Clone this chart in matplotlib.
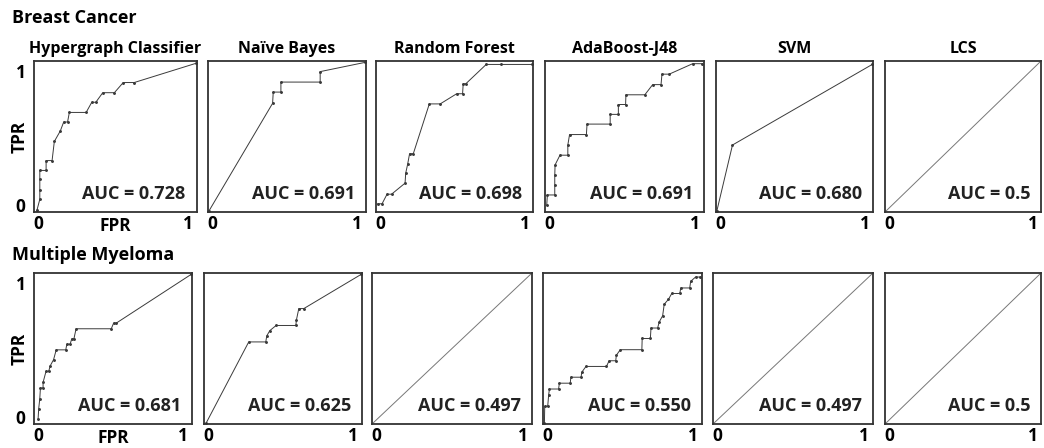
import matplotlib
matplotlib.use("Agg")
import matplotlib.pyplot as plt

plt.rcParams['font.family'] = ['Open Sans', 'DejaVu Sans']
plt.rcParams['font.weight'] = 'bold'

methods = ["Hypergraph Classifier", "Naïve Bayes", "Random Forest", "AdaBoost-J48", "SVM", "LCS"]
datasets = ["Breast Cancer", "Multiple Myeloma"]

# Breast cancer ROC points (FPR, TPR)
bc_hyper_fpr = [0.014, 0.031, 0.031, 0.031, 0.031, 0.070, 0.070, 0.107, 0.121, 0.158, 0.179, 0.203, 0.214, 0.318, 0.353, 0.378, 0.421, 0.493, 0.548, 0.616, 1.0]
bc_hyper_tpr = [0.010, 0.080, 0.143, 0.213, 0.273, 0.273, 0.339, 0.339, 0.467, 0.537, 0.597, 0.597, 0.661, 0.661, 0.729, 0.729, 0.793, 0.793, 0.861, 0.861, 0.990]
bc_nb_fpr = [0.0, 0.408, 0.412, 0.461, 0.461, 0.712, 0.712, 1.0]
bc_nb_tpr = [0.0, 0.722, 0.797, 0.797, 0.864, 0.864, 0.934, 0.996]
bc_rf_fpr = [0.006, 0.034, 0.066, 0.095, 0.182, 0.186, 0.199, 0.211, 0.235, 0.338, 0.408, 0.514, 0.552, 0.556, 0.573, 0.704, 0.800, 1.0]
bc_rf_tpr = [0.050, 0.050, 0.114, 0.114, 0.188, 0.254, 0.317, 0.385, 0.385, 0.718, 0.718, 0.786, 0.786, 0.853, 0.853, 0.982, 0.982, 0.982]
bc_ada_fpr = [0.006, 0.010, 0.057, 0.057, 0.057, 0.059, 0.090, 0.140, 0.140, 0.151, 0.258, 0.262, 0.409, 0.409, 0.461, 0.461, 0.507, 0.509, 0.629, 0.679, 0.732, 0.738, 0.784, 0.933, 0.995]
bc_ada_tpr = [0.040, 0.109, 0.109, 0.175, 0.240, 0.310, 0.375, 0.375, 0.443, 0.513, 0.513, 0.583, 0.583, 0.648, 0.648, 0.714, 0.714, 0.779, 0.779, 0.847, 0.847, 0.917, 0.917, 0.987, 0.987]
bc_svm_fpr = [0.0, 0.101, 1.0]
bc_svm_tpr = [0.0, 0.443, 0.982]
bc_lcs_fpr = [0.0, 1.0]
bc_lcs_tpr = [0.0, 1.0]

# Multiple myeloma ROC points (FPR, TPR)
mm_hyper_fpr = [0.021, 0.025, 0.032, 0.036, 0.053, 0.053, 0.072, 0.089, 0.099, 0.120, 0.137, 0.198, 0.205, 0.226, 0.236, 0.250, 0.264, 0.489, 0.504, 0.521, 1.0]
mm_hyper_tpr = [0.026, 0.097, 0.165, 0.236, 0.236, 0.273, 0.348, 0.348, 0.385, 0.425, 0.491, 0.491, 0.529, 0.529, 0.564, 0.564, 0.632, 0.632, 0.670, 0.670, 0.996]
mm_nb_fpr = [0.010, 0.281, 0.390, 0.396, 0.416, 0.456, 0.582, 0.586, 0.601, 0.633, 1.0]
mm_nb_tpr = [0.004, 0.544, 0.544, 0.584, 0.620, 0.654, 0.654, 0.692, 0.767, 0.767, 0.996]
mm_rf_fpr = [0.0, 1.0]
mm_rf_tpr = [0.0, 1.0]
mm_ada_fpr = [0.004, 0.006, 0.025, 0.031, 0.036, 0.094, 0.099, 0.168, 0.172, 0.237, 0.241, 0.268, 0.398, 0.415, 0.457, 0.461, 0.486, 0.623, 0.625, 0.677, 0.681, 0.723, 0.734, 0.755, 0.765, 0.792, 0.813, 0.864, 0.870, 0.927, 0.933, 0.964, 0.990]
mm_ada_tpr = [0.004, 0.114, 0.114, 0.191, 0.229, 0.229, 0.268, 0.268, 0.308, 0.308, 0.341, 0.380, 0.380, 0.418, 0.418, 0.455, 0.492, 0.492, 0.567, 0.567, 0.637, 0.637, 0.679, 0.719, 0.796, 0.829, 0.868, 0.868, 0.905, 0.905, 0.949, 0.978, 0.978]
mm_svm_fpr = [0.0, 1.0]
mm_svm_tpr = [0.0, 1.0]
mm_lcs_fpr = [0.0, 1.0]
mm_lcs_tpr = [0.0, 1.0]

bc_auc = ["0.728", "0.691", "0.698", "0.691", "0.680", "0.5"]
mm_auc = ["0.681", "0.625", "0.497", "0.550", "0.497", "0.5"]

curves = [
    [(bc_hyper_fpr, bc_hyper_tpr), (bc_nb_fpr, bc_nb_tpr), (bc_rf_fpr, bc_rf_tpr),
     (bc_ada_fpr, bc_ada_tpr), (bc_svm_fpr, bc_svm_tpr), (bc_lcs_fpr, bc_lcs_tpr)],
    [(mm_hyper_fpr, mm_hyper_tpr), (mm_nb_fpr, mm_nb_tpr), (mm_rf_fpr, mm_rf_tpr),
     (mm_ada_fpr, mm_ada_tpr), (mm_svm_fpr, mm_svm_tpr), (mm_lcs_fpr, mm_lcs_tpr)],
]
aucs = [bc_auc, mm_auc]

W, H = 1044, 448
fig = plt.figure(figsize=(W / 100, H / 100), dpi=100)

# panel pixel boxes (left, right) per row, and (top, bottom)
lefts = [[34, 208, 376, 545, 716, 885], [34, 204, 372, 543, 713, 885]]
rights = [[197, 366, 533, 704, 873, 1041], [192, 362, 532, 702, 873, 1041]]
tops = [61, 273]
bottoms = [212, 424]
xpads = [2, 2]

for r in range(2):
    for c in range(6):
        l, rt = lefts[r][c], rights[r][c]
        ax = fig.add_axes([l / W, 1 - bottoms[r] / H, (rt - l) / W, (bottoms[r] - tops[r]) / H])
        fpr, tpr = curves[r][c]
        is_diag = len(fpr) == 2
        ax.plot(fpr, tpr, color='#777777' if is_diag else '#3a3a3a', lw=0.7,
                marker=None if is_diag else '.', markersize=2.2)
        ax.set_xlim(-0.005, 1.005)
        ax.set_ylim(-0.005, 1.005)
        for s in ax.spines.values():
            s.set_color('#333333')
            s.set_linewidth(1.3)
        ax.set_xticks([0.02, 0.95])
        ax.set_xticklabels(['0', '1'])
        ax.tick_params(axis='x', length=0, pad=xpads[r], labelsize=12.5)
        if c == 0:
            ax.set_yticks([0.04, 0.94])
            ax.set_yticklabels(['0', '1'])
            ax.tick_params(axis='y', length=0, pad=6, labelsize=12.5)
            ax.text(-0.09, 0.5, 'TPR', transform=ax.transAxes, ha='center', va='center',
                    rotation=90, fontsize=12.5, fontweight='bold')
            ax.text(0.5, -0.02 - xpads[r] / 150, 'FPR', transform=ax.transAxes, ha='center',
                    va='top', fontsize=12.5, fontweight='bold')
        else:
            ax.set_yticks([])
        ax.text(0.93, 0.06, 'AUC = ' + aucs[r][c], transform=ax.transAxes, ha='right',
                va='bottom', fontsize=13, fontweight='bold', color='#222222')
        if r == 0:
            ax.set_title(methods[c], fontsize=11.5, fontweight='bold', pad=6)

fig.text(12 / W, 1 - 18 / H, datasets[0], fontsize=13, fontweight='bold', va='center', ha='left')
fig.text(12 / W, 1 - 255 / H, datasets[1], fontsize=13, fontweight='bold', va='center', ha='left')

fig.savefig('out.png', dpi=100)
